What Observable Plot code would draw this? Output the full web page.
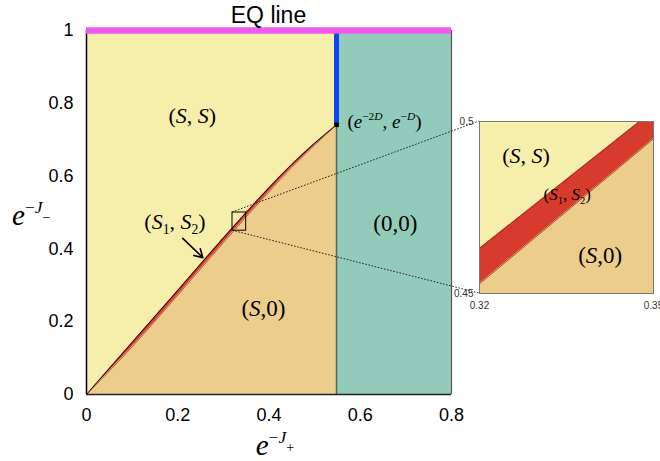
<!DOCTYPE html>
<html><head><meta charset="utf-8">
<script src="https://cdn.jsdelivr.net/npm/d3@7"></script>
<script src="https://cdn.jsdelivr.net/npm/@observablehq/plot@0.6"></script>
<style>
html,body{margin:0;padding:0;background:#fff;}
#wrap{position:relative;width:660px;height:461px;overflow:hidden;}
#wrap svg{position:absolute;overflow:visible;}
text{white-space:pre;}
</style></head><body><div id="wrap"></div>
<script>
// ---- data ----
const boundaryX = [0, 0.1, 0.2, 0.3, 0.35, 0.4, 0.45, 0.5, 0.548];
const upperY    = [0, 0.143, 0.286, 0.430, 0.500, 0.568, 0.632, 0.690, 0.741];
const lowerY    = [0, 0.131, 0.273, 0.417, 0.488, 0.557, 0.624, 0.685, 0.741];
const cornerPoint = {x: 0.548, y: 0.741};           // (e^{-2D}, e^{-D})
const insetBandX     = [0.32, 0.3476, 0.35];
const insetBandUpper = [0.4631, 0.5, 0.5];
const insetBandLower = [0.4528, 0.4916, 0.495];
const xTicks = [0, 0.2, 0.4, 0.6, 0.8];
const yTicks = [0, 0.2, 0.4, 0.6, 0.8, 1];
const insetXTicks = [0.32, 0.35];
const insetYTicks = [0.45, 0.5];
const zoomBox = {x1: 0.32, x2: 0.35, y1: 0.45, y2: 0.5};
const arrowSeg = {x1: 0.211, y1: 0.429, x2: 0.255, y2: 0.376};
const mainLabels = [
  {x: 0.233, y: 0.745, parts: [["(",""],["S","i"],[", ",""],["S","i"],[")",""]], size: 22},
  {x: 0.195, y: 0.453, parts: [["(",""],["S","i"],["1","_"],[", ",""],["S","i"],["2","_"],[")",""]], size: 22},
  {x: 0.678, y: 0.448, parts: [["(0,0)",""]], size: 23},
  {x: 0.389, y: 0.214, parts: [["(",""],["S","i"],[",0)",""]], size: 23},
  {x: 0.573, y: 0.731, parts: [["(",""],["e","i"],["−2","^"],["D","^i"],[", ",""],["e","i"],["−","^"],["D","^i"],[")",""]], size: 19, anchor: "start"}
];
const insetLabels = [
  {x: 0.3281, y: 0.4878, parts: [["(",""],["S","i"],[", ",""],["S","i"],[")",""]], size: 22},
  {x: 0.3352, y: 0.4770, parts: [["(",""],["S","i"],["1","_"],[", ",""],["S","i"],["2","_"],[")",""]], size: 17},
  {x: 0.3409, y: 0.4587, parts: [["(",""],["S","i"],[",0)",""]], size: 23}
];

// ---- style ----
const SERIF = "'Liberation Serif','Times New Roman',serif";
const SANS = "'Liberation Sans',Arial,Helvetica,sans-serif";
const C = {yellow:"#F6EFAB", tan:"#EDCD8B", teal:"#93CBBA", red:"#D63B2B", magenta:"#EE5BEE", blue:"#0E44F5"};

function addText(svg, px, py, parts, size, anchor = "middle", family = SERIF) {
  const t = d3.select(svg).append("text")
    .attr("x", px).attr("y", py).attr("text-anchor", anchor)
    .attr("font-family", family).attr("font-size", size).attr("fill", "#000");
  let cur = 0;
  for (const [s, st] of parts) {
    let off = 0, fs = size;
    const sup = st.includes("^"), sub = st.includes("_");
    if (sup && sub) { off = -0.1 * size; fs = 0.48 * size; }
    else if (sup) { off = -0.4 * size; fs = 0.6 * size; }
    else if (sub) { off = 0.22 * size; fs = 0.62 * size; }
    const ts = t.append("tspan").text(s).attr("font-size", fs).attr("dy", off - cur);
    if (st.includes("i")) ts.attr("font-style", "italic");
    cur = off;
  }
}

const rows = boundaryX.map((x, i) => ({x, u: upperY[i], l: lowerY[i]}));
const insetRows = insetBandX.map((x, i) => ({x, u: insetBandUpper[i], l: insetBandLower[i]}));
const fmt = d => String(d);

const main = Plot.plot({
  width: 660, height: 461,
  marginLeft: 86, marginRight: 209, marginTop: 30, marginBottom: 67,
  style: {fontFamily: SANS, fontSize: "18px", color: "#000", background: "transparent", overflow: "visible"},
  x: {domain: [0, 0.8], ticks: xTicks, tickFormat: fmt, tickSize: 0, tickPadding: 14, label: null},
  y: {domain: [0, 1], ticks: yTicks, tickFormat: fmt, tickSize: 0, tickPadding: 13, label: null},
  marks: [
    Plot.rect([cornerPoint], {x1: "x", x2: 0.8, y1: 0, y2: 1, fill: C.teal}),
    Plot.areaY(rows, {x: "x", y1: "u", y2: 1, fill: C.yellow, curve: "monotone-x"}),
    Plot.areaY(rows, {x: "x", y1: 0, y2: "l", fill: C.tan, curve: "monotone-x"}),
    Plot.areaY(rows, {x: "x", y1: "l", y2: "u", fill: C.red, curve: "monotone-x"}),
    Plot.line(rows, {x: "x", y: "u", stroke: "#1a0804", strokeWidth: 1, curve: "monotone-x"}),
    Plot.line(rows, {x: "x", y: "l", stroke: "#7a1a10", strokeWidth: 0.6, curve: "monotone-x"}),
    Plot.ruleX([cornerPoint], {x: "x", y1: 0, y2: "y", stroke: "#5a625e", strokeWidth: 1.5}),
    Plot.ruleX([cornerPoint], {x: "x", y1: "y", y2: 1, stroke: C.blue, strokeWidth: 5}),
    Plot.ruleX([0], {y1: 0, y2: 1, stroke: "#000", strokeWidth: 1.5}),
    Plot.ruleX([0.8], {y1: 0, y2: 1, stroke: "#555", strokeWidth: 1.2}),
    Plot.ruleY([0], {x1: 0, x2: 0.8, stroke: "#222", strokeWidth: 1.5}),
    Plot.ruleY([1], {x1: 0, x2: 0.8, stroke: C.magenta, strokeWidth: 6.5}),
    Plot.dot([cornerPoint], {x: "x", y: "y", symbol: "square", r: 2.6, fill: "#000"}),
    Plot.rect([zoomBox], {x1: "x1", x2: "x2", y1: "y1", y2: "y2", fill: "none", stroke: "#000", strokeWidth: 1}),
    Plot.arrow([arrowSeg], {x1: "x1", y1: "y1", x2: "x2", y2: "y2", stroke: "#000", strokeWidth: 1.6, headLength: 9})
  ]
});

const inset = Plot.plot({
  width: 220, height: 220,
  marginLeft: 39, marginRight: 7, marginTop: 21, marginBottom: 27,
  style: {fontFamily: SANS, fontSize: "10px", color: "#333", background: "transparent", overflow: "visible"},
  x: {domain: [0.32, 0.35], ticks: insetXTicks, tickFormat: fmt, tickSize: 0, tickPadding: 8, label: null},
  y: {domain: [0.45, 0.5], ticks: insetYTicks, tickFormat: fmt, tickSize: 0, tickPadding: 6, label: null},
  marks: [
    Plot.areaY(insetRows, {x: "x", y1: "u", y2: 0.5, fill: C.yellow}),
    Plot.areaY(insetRows, {x: "x", y1: 0.45, y2: "l", fill: C.tan}),
    Plot.areaY(insetRows, {x: "x", y1: "l", y2: "u", fill: C.red}),
    Plot.line(insetRows, {x: "x", y: "u", stroke: "#8a2a1a", strokeWidth: 0.8}),
    Plot.line(insetRows, {x: "x", y: "l", stroke: "#8a2a1a", strokeWidth: 0.8}),
    Plot.frame({stroke: "#777", strokeWidth: 1})
  ]
});

const wrap = document.getElementById("wrap");
main.style.left = "0px"; main.style.top = "0px";
inset.style.left = "440px"; inset.style.top = "100px";
wrap.appendChild(main);
wrap.appendChild(inset);

const mx = main.scale("x"), my = main.scale("y");
const ix = inset.scale("x"), iy = inset.scale("y");

// connectors from zoom box to inset corners
const g = d3.select(main).append("g").attr("stroke", "#222").attr("stroke-width", 1).attr("stroke-dasharray", "1.6,1.6").attr("fill", "none");
[[zoomBox.y2, 0.5], [zoomBox.y1, 0.45]].forEach(([yb, yi]) => {
  g.append("line")
    .attr("x1", mx.apply(zoomBox.x1)).attr("y1", my.apply(yb))
    .attr("x2", 440 + ix.apply(0.32)).attr("y2", 100 + iy.apply(yi));
});

for (const L of mainLabels) addText(main, mx.apply(L.x), my.apply(L.y), L.parts, L.size, L.anchor || "middle");
for (const L of insetLabels) addText(inset, ix.apply(L.x), iy.apply(L.y), L.parts, L.size, "middle");

// title of the EQ line and axis labels
addText(main, mx.apply(0.4), my.apply(1) - 7, [["EQ line", ""]], 23, "middle", SANS);
addText(main, mx.apply(0.372), my.apply(0) + 61, [["e","i"],["−","^"],["J","^i"],["+","^_"]], 29, "start");
addText(main, mx.apply(0) - 74, my.apply(0.465), [["e","i"],["−","^"],["J","^i"],["−","^_"]], 29, "start");
</script></body></html>
